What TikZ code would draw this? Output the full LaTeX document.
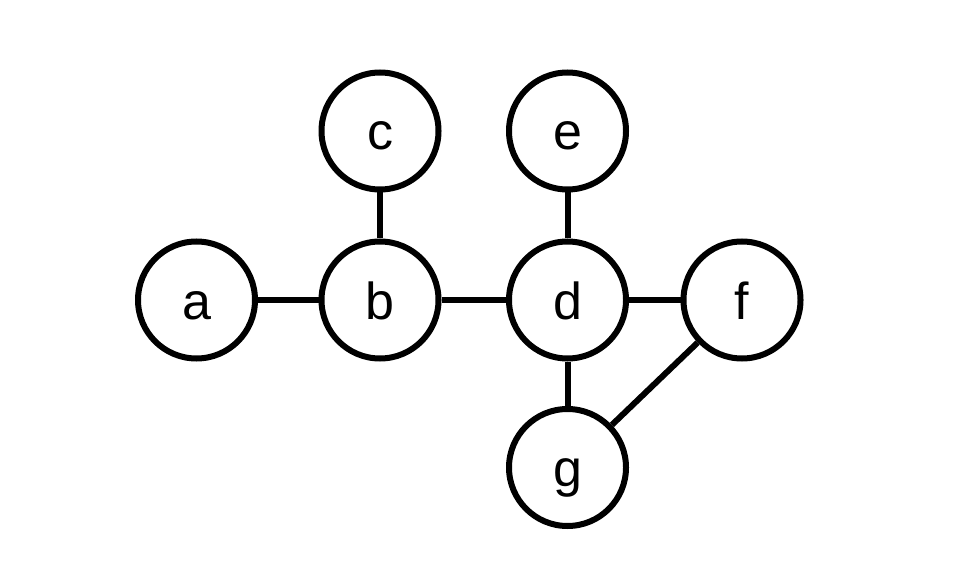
\documentclass[tikz,border=0pt]{standalone}
\usepackage{fontspec}
\setmainfont{Liberation Sans}
\begin{document}
\begin{tikzpicture}[x=1pt,y=1pt,
  vert/.style={circle,draw=black,line width=6pt,minimum size=117pt,inner sep=0pt,text height=38pt,text depth=0pt,font=\fontsize{52}{52}\selectfont},
  edge/.style={line width=6pt,draw=black}]
\useasboundingbox (0,0) rectangle (960,587);
\node[vert] (a) at (196.5,287) {a};
\node[vert] (b) at (380,287) {b};
\node[vert] (c) at (380,456) {c};
\node[vert] (e) at (567.5,456) {e};
\node[vert] (d) at (567.5,287) {d};
\node[vert] (f) at (742,287) {f};
\node[vert] (g) at (567.5,119.5) {g};
\draw[edge] (a) -- (b);
\draw[edge] (b) -- (c);
\draw[edge] (b) -- (d);
\draw[edge] (d) -- (e);
\draw[edge] (d) -- (f);
\draw[edge] (d) -- (g);
\draw[edge] (f) -- (g);
\end{tikzpicture}
\end{document}
